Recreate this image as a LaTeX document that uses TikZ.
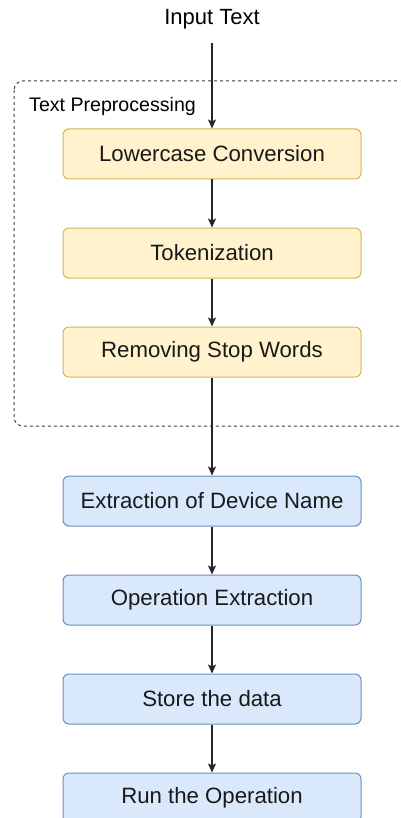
\documentclass[tikz,border=0pt]{standalone}
\usepackage{fontspec}
\setmainfont{Liberation Sans}
\usetikzlibrary{arrows.meta}
\definecolor{yfill}{HTML}{FFF2CC}
\definecolor{ydraw}{HTML}{D6B656}
\definecolor{bfill}{HTML}{DAE8FC}
\definecolor{bdraw}{HTML}{6C8EBF}
\begin{document}
\begin{tikzpicture}[x=1pt,y=-1pt,
  box/.style={rounded corners=6pt,minimum width=298pt,minimum height=50pt,inner sep=0pt,line width=1pt,font=\fontsize{22.2}{26}\selectfont,text=black!90},
  ybox/.style={box,fill=yfill,draw=ydraw},
  bbox/.style={box,fill=bfill,draw=bdraw},
  arr/.style={-{Stealth[length=9pt,width=8pt,inset=2pt]},line width=1.1pt,black!85},
  grp/.style={dashed,dash pattern=on 3pt off 3pt,line width=1pt,rounded corners=9pt,black!75}]
\useasboundingbox (0,0) rectangle (400,818);
\clip (0,0) rectangle (400,818);
\fill[white] (0,0) rectangle (400,818);
\draw[grp] (14,81) rectangle (420,426);
\node[anchor=west,font=\fontsize{19.6}{23}\selectfont,inner sep=0pt] (lbl) at (29,106) {Text Preprocessing};
\node[minimum height=48pt,inner sep=0pt,font=\fontsize{22}{26}\selectfont] (in) at (212,19) {Input Text};
\node[ybox] (lc) at (212,154) {Lowercase Conversion};
\node[ybox] (tok) at (212,253) {Tokenization};
\node[ybox] (sw) at (212,352) {Removing Stop Words};
\node[bbox] (ex) at (212,501) {Extraction of Device Name};
\node[bbox] (op) at (212,600) {Operation Extraction};
\node[bbox] (st) at (212,699) {Store the data};
\node[bbox] (run) at (212,798) {Run the Operation};
\draw[arr] (in.south) -- (lc.north);
\draw[arr] (lc) -- (tok);
\draw[arr] (tok) -- (sw);
\draw[arr] (sw) -- (ex);
\draw[arr] (ex) -- (op);
\draw[arr] (op) -- (st);
\draw[arr] (st) -- (run);
\end{tikzpicture}
\end{document}
